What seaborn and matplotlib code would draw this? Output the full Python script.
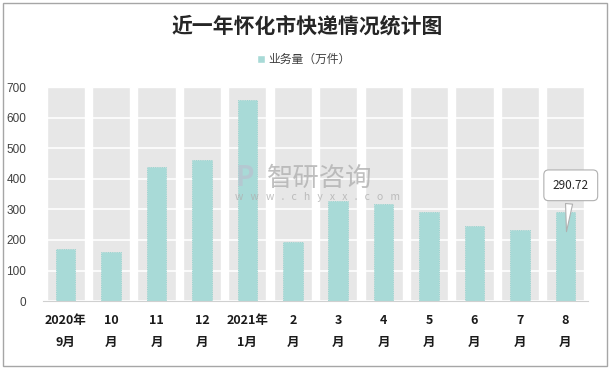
import matplotlib
matplotlib.use("Agg")
import matplotlib.pyplot as plt
from matplotlib.patches import Rectangle, Patch
import seaborn as sns
import pandas as pd

# data
months = ["2020年\n9月", "10\n月", "11\n月", "12\n月", "2021年\n1月", "2\n月",
          "3\n月", "4\n月", "5\n月", "6\n月", "7\n月", "8\n月"]
volume = [169, 162, 437, 461, 657, 194, 326, 316, 290, 247, 234, 290.72]
y_ticks = [0, 100, 200, 300, 400, 500, 600, 700]
series_name = "业务量（万件）"
title = "近一年怀化市快递情况统计图"

teal = "#a8dad7"
col_gray = "#e7e7e7"

sns.set_style("white")
plt.rcParams['font.family'] = ['Noto Sans CJK SC', 'DejaVu Sans']

df = pd.DataFrame({"month": months, "volume": volume})

fig = plt.figure(figsize=(6.11, 3.69), dpi=100)
ax = fig.add_axes([0.0704, 0.184, 0.892, 0.58])

# gray background column behind each category
ax.bar(range(len(months)), [y_ticks[-1]] * len(months), width=0.84,
       color=col_gray, zorder=0)

sns.barplot(data=df, x="month", y="volume", color=teal, width=0.43,
            saturation=1, ax=ax, zorder=2,
            edgecolor="#8fcfcb", linewidth=0.6, linestyle=":")

ax.set_axisbelow(True)
ax.yaxis.grid(True, color="white", linewidth=1.2, zorder=1)
ax.set_ylim(0, y_ticks[-1])
ax.set_yticks(y_ticks)
ax.set_xlim(-0.5, len(months) - 0.5)
ax.set_xlabel("")
ax.set_ylabel("")

for s in ["top", "right", "left"]:
    ax.spines[s].set_visible(False)
ax.spines["bottom"].set_color("#d0d0d0")
ax.tick_params(axis="y", length=0, pad=12, labelsize=8.5, labelcolor="#404040")
ax.tick_params(axis="x", length=0, pad=9, labelsize=9, labelcolor="#1a1a1a")
for lab in ax.get_yticklabels():
    lab.set_family(["Liberation Sans", "DejaVu Sans"])
for lab in ax.get_xticklabels():
    lab.set_fontweight("bold")
    lab.set_linespacing(1.9)

# title and legend
fig.text(0.503, 0.93, title, ha="center", va="center", fontsize=15,
         fontweight="bold", color="#262626")
leg = fig.legend(handles=[Patch(facecolor=teal)], labels=[series_name],
                 loc="center", bbox_to_anchor=(0.497, 0.838), frameon=False,
                 fontsize=8.5, handlelength=0.7, handleheight=0.7, handletextpad=0.3)
for t in leg.get_texts():
    t.set_color("#404040")

# watermark
fig.text(0.437, 0.517, "智研咨询", fontsize=19, color="#b0b0b0", alpha=0.8,
         ha="left", va="center")
fig.text(0.385, 0.517, "P", fontsize=20, fontweight="bold", color="#b8c4d0",
         alpha=0.8, ha="left", va="center")
fig.text(0.384, 0.465, "w   w   w   .   c   h   y   x   x   .   c   o   m",
         fontsize=7.5, color="#b0b0b0", alpha=0.8, ha="left", va="center")

# callout for the last value
last = len(volume) - 1
ax.annotate(f"{volume[last]:.2f}", xy=(last + 0.02, volume[last] * 0.75),
            xytext=(last + 0.12, volume[last] + 88), ha="center", va="center",
            fontsize=8.5, color="#262626",
            bbox=dict(boxstyle="round,pad=0.75,rounding_size=0.4", fc="white",
                      ec="#b0b0b0", lw=0.8),
            arrowprops=dict(arrowstyle="wedge,tail_width=0.6,shrink_factor=0.5",
                            fc="white", ec="#b0b0b0", lw=0.8))

fig.add_artist(Rectangle((0.005, 0.008), 0.989, 0.984, transform=fig.transFigure,
                         fill=False, edgecolor="#a6a6a6", linewidth=1))

fig.savefig("out.png", dpi=100)
